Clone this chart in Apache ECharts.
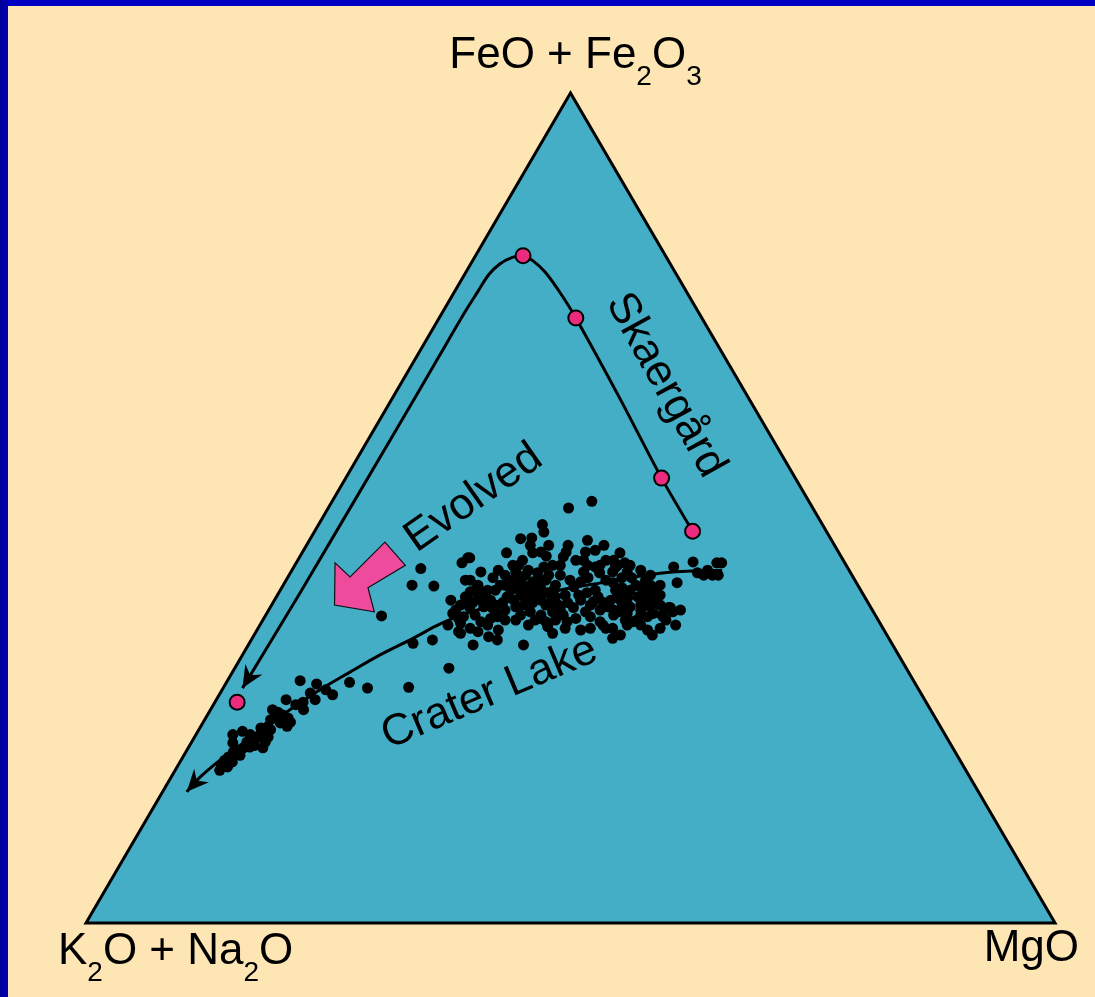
<!DOCTYPE html>
<html>
<head>
<meta charset="utf-8">
<title>AFM diagram – Skaergård and Crater Lake</title>
<script src="https://cdn.jsdelivr.net/npm/echarts@6/dist/echarts.min.js"></script>
<style>
  html, body { margin: 0; padding: 0; background: #fde6b3; }
  #chart { width: 1095px; height: 997px; }
  .edge { position: absolute; z-index: 2; }
  .edge.top { left: 0; top: 0; width: 1095px; height: 6px; background: #0000c4; }
  .edge.left { left: 0; top: 0; width: 8px; height: 997px; background: linear-gradient(to right, #000096, #0000b8); }
</style>
</head>
<body>
<div id="chart"></div>
<div class="edge top"></div>
<div class="edge left"></div>
<script>
// AFM ternary, every point is [FeO + Fe2O3, MgO] (alkalis = 100 - both)
const vertices = [[100, 0], [0, 0], [0, 100]];

const skaergardSamples = [[47.2, 39.0], [53.6, 32.6], [72.9, 14.1], [80.4, 4.9], [26.6, 2.3]];

const skaergardTrend = [
  [47.2, 39.0], [53.6, 32.6], [63.3, 23.4], [72.9, 14.1], [75.9, 11.0], [78.4, 8.2],
  [79.8, 6.2], [80.4, 4.9], [80.2, 3.9], [79.4, 3.0], [78.1, 2.5], [76.1, 2.4],
  [73.7, 2.3], [68.4, 2.3], [59.4, 2.3], [39.8, 2.2], [28.3, 2.0]
];

const craterTrend = [
  [42.5, 44.4], [42.3, 39.4], [41.8, 36.3], [41.1, 33.2], [40.1, 28.8], [38.8, 24.4],
  [37.3, 20.6], [36.0, 18.5], [34.3, 16.6], [32.3, 14.2], [30.2, 12.1], [28.1, 10.1],
  [25.7, 8.2], [23.5, 6.5], [21.4, 5.2], [19.6, 4.0], [17.6, 3.0], [15.8, 2.5]
];

const craterLake = [
  [50.8, 26.8], [50.0, 24.8], [48.0, 23.1], [47.1, 23.7], [46.3, 21.7], [46.4, 22.8], [46.1, 28.7], [45.5, 30.7], [44.9, 30.1], [45.5, 27.0],
  [44.7, 27.2], [44.1, 27.2], [44.6, 21.1], [44.6, 23.8], [44.2, 25.4], [44.0, 17.4], [43.4, 17.1], [43.7, 23.2], [43.1, 23.1], [43.7, 28.7],
  [43.7, 29.5], [43.1, 30.2], [44.6, 32.8], [43.7, 32.6], [43.1, 33.3], [43.4, 33.9], [43.1, 26.6], [42.9, 25.8], [42.5, 21.3], [42.5, 24.4],
  [41.9, 24.4], [42.3, 30.2], [42.2, 31.9], [41.6, 31.0], [42.3, 34.7], [41.6, 35.5], [41.6, 34.5], [42.9, 39.2], [43.5, 40.9], [43.4, 43.4],
  [43.4, 43.9], [42.5, 42.9], [41.9, 43.7], [41.9, 42.8], [41.9, 44.3], [42.2, 42.0], [41.0, 40.5], [41.3, 18.5], [41.3, 23.4], [41.1, 25.6],
  [40.7, 20.1], [40.1, 21.4], [39.8, 21.0], [40.5, 24.9], [40.1, 25.8], [40.4, 26.7], [39.8, 27.7], [39.3, 28.8], [40.5, 30.1], [41.1, 30.5],
  [40.1, 32.5], [39.8, 31.8], [41.0, 33.9], [40.4, 35.1], [40.1, 36.1], [40.5, 37.0], [39.3, 37.3], [39.8, 38.0], [39.3, 38.9], [38.9, 19.9],
  [38.6, 20.6], [38.9, 21.3], [38.0, 20.6], [38.1, 22.0], [39.3, 23.8], [38.9, 24.7], [38.6, 23.7], [39.2, 25.9], [38.6, 26.8], [38.9, 27.5],
  [38.3, 26.0], [38.6, 28.6], [38.3, 29.6], [38.6, 30.4], [38.0, 31.3], [38.7, 33.0], [38.6, 34.1], [38.9, 34.7], [37.7, 34.2], [37.7, 35.6],
  [38.3, 36.2], [38.1, 37.1], [38.3, 38.1], [38.1, 39.2], [38.3, 40.1], [38.0, 41.1], [37.3, 19.2], [36.9, 20.5], [35.9, 19.4], [36.1, 20.6],
  [37.5, 23.5], [36.9, 24.0], [37.1, 28.4], [37.5, 29.4], [37.1, 30.7], [36.3, 29.3], [36.7, 28.6], [36.9, 33.6], [36.3, 34.9], [37.1, 35.9],
  [37.3, 37.2], [36.3, 38.3], [37.1, 38.7], [36.9, 39.5], [37.3, 39.9], [37.1, 40.9], [36.5, 41.6], [35.9, 23.5], [35.1, 22.9], [34.9, 21.2],
  [35.3, 24.9], [34.1, 25.4], [33.5, 23.2], [35.7, 29.8], [34.9, 30.7], [33.5, 28.4], [35.9, 35.4], [35.5, 35.9], [35.9, 37.9], [35.9, 39.3],
  [35.3, 40.3], [34.7, 41.1], [42.7, 13.2], [40.7, 13.3], [40.6, 15.6], [44.0, 17.6], [37.0, 12.0], [33.7, 16.9], [34.1, 18.7], [35.1, 20.9],
  [30.7, 22.1], [34.5, 24.3], [38.0, 41.3], [36.9, 41.1], [36.5, 38.6], [39.5, 35.1], [41.3, 33.0], [41.9, 28.0], [41.3, 29.3], [40.7, 28.1],
  [40.1, 23.8], [40.7, 22.4], [38.9, 22.3], [38.3, 23.1], [38.3, 19.5], [37.7, 19.3], [37.1, 21.6], [39.5, 21.5], [39.5, 25.1], [39.5, 26.6],
  [39.5, 29.7], [38.9, 31.6], [38.3, 32.9], [38.9, 35.7], [39.2, 36.3], [40.7, 36.4], [41.3, 37.1], [40.7, 37.9], [39.5, 39.5], [39.5, 35.9],
  [40.1, 34.6], [41.3, 24.2], [40.7, 25.5], [41.3, 26.8], [42.3, 23.2], [43.1, 31.5], [42.3, 33.2], [39.3, 37.6], [38.7, 39.4], [37.7, 42.5],
  [35.9, 42.9], [35.5, 41.5], [35.5, 36.6], [34.7, 37.8],
  [39.9, 19.7], [39.2, 20.9], [39.3, 19.5], [38.0, 22.9], [37.7, 24.4], [38.1, 25.3], [37.1, 26.3], [37.5, 27.1], [36.5, 28.1], [35.9, 27.7],
  [36.5, 26.1], [36.5, 25.0], [36.7, 23.4], [36.3, 22.6], [35.5, 21.9], [36.7, 20.1], [38.9, 18.2], [40.1, 20.1], [40.1, 22.2], [40.7, 22.9],
  [40.4, 24.1], [41.3, 26.3], [41.9, 26.8], [42.2, 25.5], [40.1, 28.2], [37.7, 30.1], [36.3, 31.5], [36.7, 32.2], [37.5, 32.8], [39.5, 31.1],
  [39.3, 33.2], [38.1, 34.8], [37.5, 36.2], [36.5, 37.4], [37.7, 38.4], [38.9, 38.3], [40.1, 38.7], [40.7, 38.9], [41.9, 37.3], [42.5, 36.0],
  [43.1, 34.6], [42.8, 33.2], [43.7, 31.8], [42.9, 31.1], [44.7, 29.2], [43.1, 27.4], [45.5, 25.0], [44.7, 24.6], [45.5, 23.1], [43.1, 22.5],
  [41.9, 22.3], [41.6, 21.2], [42.3, 19.6], [41.3, 19.0], [38.3, 28.3], [36.5, 30.2], [35.5, 31.7], [35.3, 33.4], [35.5, 34.3], [34.3, 37.2],
  [37.5, 41.8],
  [28.4, 19.1], [28.3, 14.9], [29.0, 12.7], [29.2, 7.5], [28.8, 9.4], [27.7, 9.3], [27.5, 11.7], [26.9, 10.2], [26.6, 9.1], [26.9, 7.2],
  [25.7, 9.6], [25.7, 6.4], [25.4, 7.1], [24.8, 7.1], [24.7, 8.5], [24.2, 9.0], [23.7, 8.9], [24.1, 8.0], [23.1, 4.6], [22.7, 3.8],
  [23.5, 6.3], [23.6, 6.9], [22.9, 6.9], [22.4, 6.6], [22.4, 7.6], [22.0, 6.2], [21.8, 7.6], [21.1, 7.7], [21.2, 6.3], [21.1, 5.7],
  [21.7, 4.3], [20.6, 4.9], [20.2, 5.8], [20.0, 4.7], [19.4, 5.4], [18.8, 5.2], [19.0, 4.5], [18.4, 4.6], [21.8, 5.7], [23.3, 7.4],
  [25.1, 7.7], [28.1, 10.7], [22.7, 5.6], [21.4, 6.7], [20.8, 5.3], [19.6, 4.5], [24.5, 6.8], [26.3, 8.5]
];

// the pink "Evolved" arrow outline, same ternary units
const evolvedArrow = [[38.3, 6.5], [43.4, 4.0], [41.7, 6.4], [45.9, 7.9], [43.1, 11.4], [40.4, 8.9], [37.5, 11.0]];

const FONT = '"Liberation Sans", Arial, Helvetica, sans-serif';
const TEAL = '#44aec6';
const PINK = '#ec2a7e';

const labels = [
  { at: [100, 0], dx: 5, dy: -37, align: 'center', text: '{m|FeO + Fe}{s|2}{m|O}{s|3}' },
  { at: [0, 0], dx: -28, dy: 29, align: 'left', text: '{m|K}{s|2}{m|O + Na}{s|2}{m|O}' },
  { at: [0, 100], dx: 24, dy: 26, align: 'right', text: '{m|MgO}' },
  { at: [64.8, 27.4], dx: 0, dy: 0, align: 'center', rotate: -61, text: '{m|Skaergård}' },
  { at: [51.2, 14.4], dx: 0, dy: 0, align: 'center', rotate: 35, text: '{m|Evolved}' },
  { at: [27.7, 27.8], dx: 0, dy: 0, align: 'center', rotate: 23, text: '{m|Crater Lake}' }
];

const rich = {
  m: { fontSize: 44, fontFamily: FONT, fill: '#000', lineHeight: 50 },
  s: { fontSize: 28, fontFamily: FONT, fill: '#000', lineHeight: 28, padding: [42, 0, 0, 0] }
};

const toXY = p => [p[1] + p[0] / 2, p[0]];
const xy = arr => arr.map(toXY);
const arrowLines = [skaergardTrend, craterTrend];

const chart = echarts.init(document.getElementById('chart'));

chart.setOption({
  animation: false,
  backgroundColor: 'transparent',
  grid: { left: 86, right: 40, top: 93, bottom: 74 },
  xAxis: { type: 'value', min: 0, max: 100, show: false },
  yAxis: { type: 'value', min: 0, max: 100, show: false },
  series: [
    {
      type: 'custom',
      name: 'field',
      silent: true,
      z: 1,
      data: [[50, 50]],
      renderItem: (params, api) => ({
        type: 'polygon',
        shape: { points: vertices.map(v => api.coord(toXY(v))) },
        style: { fill: TEAL, stroke: '#000', lineWidth: 3, lineJoin: 'miter' }
      })
    },
    {
      type: 'custom',
      name: 'Evolved',
      silent: true,
      z: 3,
      data: [[30, 40]],
      renderItem: (params, api) => ({
        type: 'polygon',
        shape: { points: evolvedArrow.map(v => api.coord(toXY(v))) },
        style: { fill: '#ef4b9d', stroke: '#111', lineWidth: 1.2 }
      })
    },
    {
      type: 'line',
      name: 'Skaergård trend',
      data: xy(skaergardTrend),
      smooth: 0.3,
      showSymbol: false,
      lineStyle: { color: '#000', width: 3 },
      z: 3
    },
    {
      type: 'line',
      name: 'Crater Lake trend',
      data: xy(craterTrend),
      smooth: 0.3,
      showSymbol: false,
      lineStyle: { color: '#000', width: 3 },
      z: 3
    },
    {
      type: 'custom',
      name: 'arrowheads',
      silent: true,
      z: 4,
      data: [[0, 0], [0, 0]],
      renderItem: (params, api) => {
        const line = arrowLines[params.dataIndex];
        const tip = api.coord(toXY(line[line.length - 1]));
        const back = api.coord(toXY(line[line.length - 2]));
        let ux = tip[0] - back[0], uy = tip[1] - back[1];
        const len = Math.hypot(ux, uy);
        ux /= len; uy /= len;
        const nx = -uy, ny = ux;
        const L = 22, W = 10, N = 15;
        return {
          type: 'polygon',
          shape: {
            points: [
              tip,
              [tip[0] - ux * L + nx * W, tip[1] - uy * L + ny * W],
              [tip[0] - ux * N, tip[1] - uy * N],
              [tip[0] - ux * L - nx * W, tip[1] - uy * L - ny * W]
            ]
          },
          style: { fill: '#000' }
        };
      }
    },
    {
      type: 'scatter',
      name: 'Crater Lake',
      data: xy(craterLake),
      symbolSize: 11,
      itemStyle: { color: '#000', opacity: 1 },
      z: 5
    },
    {
      type: 'scatter',
      name: 'Skaergård',
      data: xy(skaergardSamples),
      symbolSize: 15,
      itemStyle: { color: PINK, borderColor: '#000', borderWidth: 2, opacity: 1 },
      z: 6
    },
    {
      type: 'custom',
      name: 'labels',
      silent: true,
      z: 7,
      data: labels.map(l => toXY(l.at)),
      renderItem: (params, api) => {
        const l = labels[params.dataIndex];
        const p = api.coord([api.value(0), api.value(1)]);
        return {
          type: 'text',
          x: p[0] + l.dx,
          y: p[1] + l.dy,
          rotation: (l.rotate || 0) * Math.PI / 180,
          style: {
            text: l.text,
            align: l.align,
            verticalAlign: 'middle',
            fill: '#000',
            fontSize: 44,
            fontFamily: FONT,
            rich: rich
          }
        };
      }
    }
  ]
});
</script>
</body>
</html>
